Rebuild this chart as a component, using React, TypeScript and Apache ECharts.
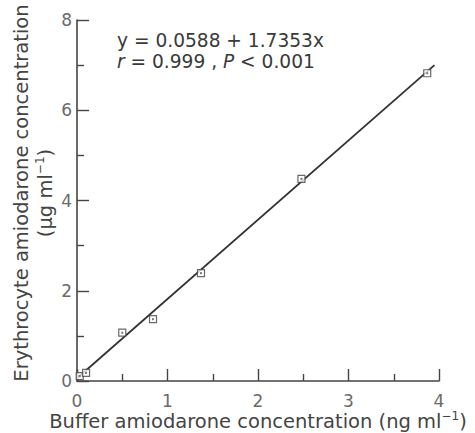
import React, { useEffect, useRef } from "react";
import * as echarts from "echarts";

const pointX = [0.03, 0.1, 0.5, 0.84, 1.37, 2.48, 3.87];
const pointY = [0.11, 0.18, 1.07, 1.37, 2.39, 4.48, 6.82];
const fitX = [0, 3.95];
const fitY = [0.06, 7.0];
const xTicks = [0, 1, 2, 3, 4];
const yTicks = [0, 2, 4, 6, 8];

const FONT = "DejaVu Sans";
const INK = "#3a3a3a";

export default function App() {
  const ref = useRef<HTMLDivElement>(null);
  useEffect(() => {
    if (!ref.current) return;
    const chart = echarts.init(ref.current, undefined, { renderer: "svg" });
    const pts = pointX.map((x, i) => [x, pointY[i]]);
    const fit = fitX.map((x, i) => [x, fitY[i]]);
    const axisCommon = {
      type: "value" as const,
      axisLine: { show: true, lineStyle: { color: "#444", width: 1.6 } },
      axisTick: { show: true, inside: true, length: 12, lineStyle: { color: "#444", width: 1.4 } },
      minorTick: { show: true, splitNumber: 2, length: 7, lineStyle: { color: "#444", width: 1.4 } },
      splitLine: { show: false },
      axisLabel: { color: "#6a6a6a", fontFamily: FONT, fontSize: 17 },
    };
    chart.setOption({
      animation: false,
      backgroundColor: "#fff",
      grid: { left: 77, top: 20, right: 36, bottom: 52 },
      xAxis: {
        ...axisCommon,
        min: xTicks[0],
        max: xTicks[xTicks.length - 1],
        interval: 1,
        axisLabel: { ...axisCommon.axisLabel, margin: 11 },
      },
      yAxis: {
        ...axisCommon,
        min: yTicks[0],
        max: yTicks[yTicks.length - 1],
        interval: 2,
        axisLabel: { ...axisCommon.axisLabel, margin: 5 },
      },
      series: [
        {
          type: "line",
          data: fit,
          showSymbol: false,
          symbol: "none",
          lineStyle: { color: "#333", width: 1.8 },
          z: 2,
        },
        {
          type: "scatter",
          data: pts,
          symbol: "rect",
          symbolSize: 7,
          itemStyle: { color: "#fff", borderColor: "#444", borderWidth: 1.2 },
          z: 3,
        },
        {
          type: "scatter",
          data: pts,
          symbol: "rect",
          symbolSize: 2,
          itemStyle: { color: "#555" },
          z: 4,
        },
      ],
      graphic: [
        {
          type: "text",
          x: 117,
          y: 30,
          style: {
            text: "{n|y = 0.0588 + 1.7353x}\n{i|r}{n| = 0.999 , }{i|P}{n| < 0.001}",
            fill: INK,
            rich: {
              n: { fontFamily: FONT, fontSize: 18.6, lineHeight: 21, fill: INK },
              i: { fontFamily: FONT, fontSize: 18.6, lineHeight: 21, fontStyle: "italic", fill: INK },
            },
          },
        },
        {
          type: "text",
          x: 258,
          y: 421,
          style: {
            text: "{n|Buffer amiodarone concentration (ng ml}{s|−1}{n|)}",
            align: "center",
            verticalAlign: "middle",
            fill: "#444",
            rich: {
              n: { fontFamily: FONT, fontSize: 19.5, fill: "#444", lineHeight: 22 },
              s: { fontFamily: FONT, fontSize: 12, fill: "#444", lineHeight: 22, padding: [0, 0, 10, 0] },
            },
          },
        },
        {
          type: "text",
          x: 33,
          y: 193,
          rotation: Math.PI / 2,
          style: {
            text: "{n|Erythrocyte amiodarone concentration}\n{n|(μg ml}{s|−1}{n|)}",
            align: "center",
            verticalAlign: "middle",
            fill: "#444",
            rich: {
              n: { fontFamily: FONT, fontSize: 19.5, fill: "#444", lineHeight: 24 },
              s: { fontFamily: FONT, fontSize: 12, fill: "#444", lineHeight: 24, padding: [0, 0, 10, 0] },
            },
          },
        },
      ],
    });
    return () => chart.dispose();
  }, []);
  return (
    <div
      ref={ref}
      style={{ position: "fixed", left: 0, top: 0, width: 475, height: 433, background: "#fff" }}
    />
  );
}
